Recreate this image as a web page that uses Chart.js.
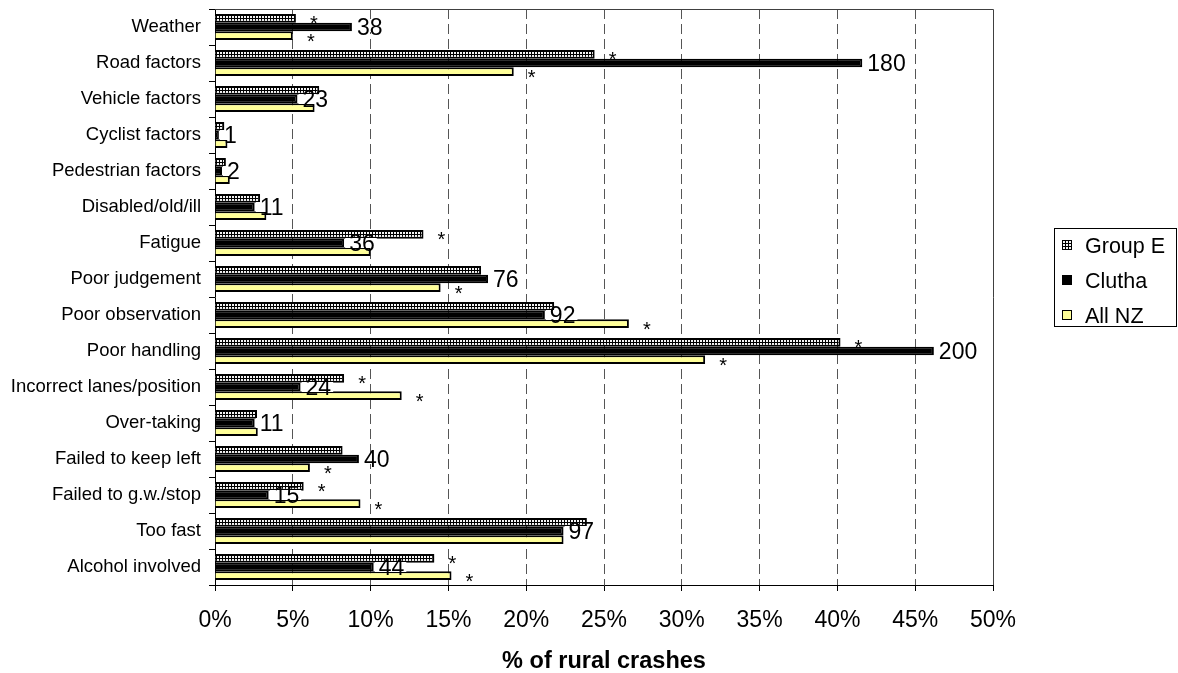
<!DOCTYPE html>
<html>
<head>
<meta charset="utf-8">
<script src="https://cdn.jsdelivr.net/npm/chart.js@4.4.0/dist/chart.umd.min.js"></script>
<style>
  body { margin: 0; background: #fff; }
</style>
</head>
<body>
<canvas id="crashChart" width="1178" height="673"></canvas>
<script>
// categories, top to bottom
const categories = ['Weather', 'Road factors', 'Vehicle factors', 'Cyclist factors', 'Pedestrian factors',
  'Disabled/old/ill', 'Fatigue', 'Poor judgement', 'Poor observation', 'Poor handling',
  'Incorrect lanes/position', 'Over-taking', 'Failed to keep left', 'Failed to g.w./stop',
  'Too fast', 'Alcohol involved'];

// % of rural crashes
const groupE = [5.2, 24.4, 6.7, 0.6, 0.7, 2.9, 13.4, 17.1, 21.8, 40.2, 8.3, 2.7, 8.2, 5.7, 23.9, 14.1];
const clutha = [8.8, 41.6, 5.3, 0.25, 0.45, 2.55, 8.3, 17.55, 21.2, 46.2, 5.5, 2.55, 9.25, 3.45, 22.4, 10.2];
const allNZ = [5.0, 19.2, 6.4, 0.8, 0.95, 3.3, 10.0, 14.5, 26.6, 31.5, 12.0, 2.75, 6.1, 9.35, 22.4, 15.2];

// crash counts shown next to the Clutha bars
const cluthaCounts = [38, 180, 23, 1, 2, 11, 36, 76, 92, 200, 24, 11, 40, 15, 97, 44];

// significance marks
const groupENotes = ['*', '*', '', '', '', '', '*', '', '', '*', '*', '', '', '*', '', '*'];
const allNZNotes = ['*', '*', '', '', '', '', '', '*', '*', '*', '*', '', '*', '*', '', '*'];

const xTickValues = [0, 5, 10, 15, 20, 25, 30, 35, 40, 45, 50];
const seriesNames = ['Group E', 'Clutha', 'All NZ'];

const FONT = '"Liberation Sans", Arial, sans-serif';
Chart.defaults.font.family = FONT;
Chart.defaults.color = '#000';

const ctx = document.getElementById('crashChart').getContext('2d');

// dotted fill used by Excel for Group E
function makePattern(c) {
  const tile = document.createElement('canvas');
  tile.width = 3; tile.height = 3;
  const p = tile.getContext('2d');
  p.fillStyle = '#f4f4f4'; p.fillRect(0, 0, 3, 3);
  p.fillStyle = '#000';
  p.fillRect(0, 0, 3, 1);
  p.fillRect(0, 0, 1, 3);
  return c.createPattern(tile, 'repeat');
}
const groupEFill = makePattern(ctx);
const fills = [groupEFill, '#000000', '#FFFF99'];

const notesPlugin = {
  id: 'notes',
  afterDatasetsDraw(chart) {
    const c = chart.ctx;
    const metaE = chart.getDatasetMeta(0);
    const metaC = chart.getDatasetMeta(1);
    const metaN = chart.getDatasetMeta(2);
    c.save();
    c.font = '20px ' + FONT;
    c.fillStyle = '#000';
    c.textAlign = 'center';
    c.textBaseline = 'alphabetic';
    categories.forEach((cat, i) => {
      if (groupENotes[i]) {
        const b = metaE.data[i];
        c.fillText(groupENotes[i], b.x + 18, b.y + 12);
      }
      if (allNZNotes[i]) {
        const b = metaN.data[i];
        c.fillText(allNZNotes[i], b.x + 18, b.y + 12);
      }
    });
    c.font = '23px ' + FONT;
    c.textAlign = 'left';
    categories.forEach((cat, i) => {
      const b = metaC.data[i];
      const txt = String(cluthaCounts[i]);
      const w = c.measureText(txt).width;
      c.fillStyle = '#fff';
      c.fillRect(b.x + 1, b.y - 5, w + 6, 10);
      c.fillStyle = '#000';
      c.fillText(txt, b.x + 5, b.y + 8);
    });
    c.restore();
  },
  afterDraw(chart) {
    const c = chart.ctx;
    const a = chart.chartArea;
    c.save();
    // plot frame top/right
    c.strokeStyle = '#404040';
    c.lineWidth = 1;
    c.beginPath();
    c.moveTo(a.left, a.top + 0.5);
    c.lineTo(a.right + 0.5, a.top + 0.5);
    c.lineTo(a.right + 0.5, a.bottom);
    c.stroke();

    // legend
    const lx = 1054, ly = 228, lw = 122, lh = 98;
    c.strokeStyle = '#000';
    c.strokeRect(lx + 0.5, ly + 0.5, lw, lh);
    c.font = '21.5px ' + FONT;
    c.textAlign = 'left';
    c.textBaseline = 'alphabetic';
    seriesNames.forEach((name, i) => {
      const cy = 245 + i * 35;
      c.fillStyle = fills[i];
      c.fillRect(1062, cy - 5, 10, 10);
      c.strokeStyle = '#000';
      c.strokeRect(1062.5, cy - 4.5, 9, 9);
      c.fillStyle = '#000';
      c.fillText(name, 1085, cy + 7.5);
    });
    c.restore();
  }
};

new Chart(ctx, {
  type: 'bar',
  data: {
    labels: categories,
    datasets: [groupE, clutha, allNZ].map((d, i) => ({
      label: seriesNames[i],
      data: d,
      backgroundColor: fills[i],
      borderColor: '#000',
      borderWidth: 2,
      categoryPercentage: 0.72,
      barPercentage: 1.0
    }))
  },
  options: {
    indexAxis: 'y',
    responsive: false,
    animation: false,
    layout: { padding: { top: 9, right: 185, left: 0, bottom: 0 } },
    plugins: {
      legend: { display: false },
      tooltip: { enabled: false }
    },
    scales: {
      x: {
        min: 0,
        max: 50,
        afterBuildTicks: axis => { axis.ticks = xTickValues.map(v => ({ value: v })); },
        afterFit: s => { s.height = 88; },
        grid: {
          color: c => (c.tick && (c.tick.value === 0 || c.tick.value === 50)) ? 'rgba(0,0,0,0)' : '#555',
          lineWidth: 1,
          tickColor: '#000',
          tickLength: 6,
          tickBorderDash: []
        },
        border: { display: true, color: '#000', width: 1, dash: [10, 5] },
        ticks: {
          callback: v => v + '%',
          font: { size: 23 },
          color: '#000',
          padding: 16,
          maxRotation: 0
        },
        title: {
          display: true,
          text: '% of rural crashes',
          font: { size: 23.5, weight: 'bold', lineHeight: 1 },
          color: '#000',
          padding: 0
        }
      },
      y: {
        afterFit: s => { s.width = 215; s.paddingTop = 0; s.paddingBottom = 0; },
        grid: { offset: true, drawOnChartArea: false, tickLength: 6, tickColor: '#000' },
        border: { color: '#000', width: 1 },
        ticks: { font: { size: 18.5 }, color: '#000', padding: 8, autoSkip: false }
      }
    }
  },
  plugins: [notesPlugin]
});
</script>
</body>
</html>
